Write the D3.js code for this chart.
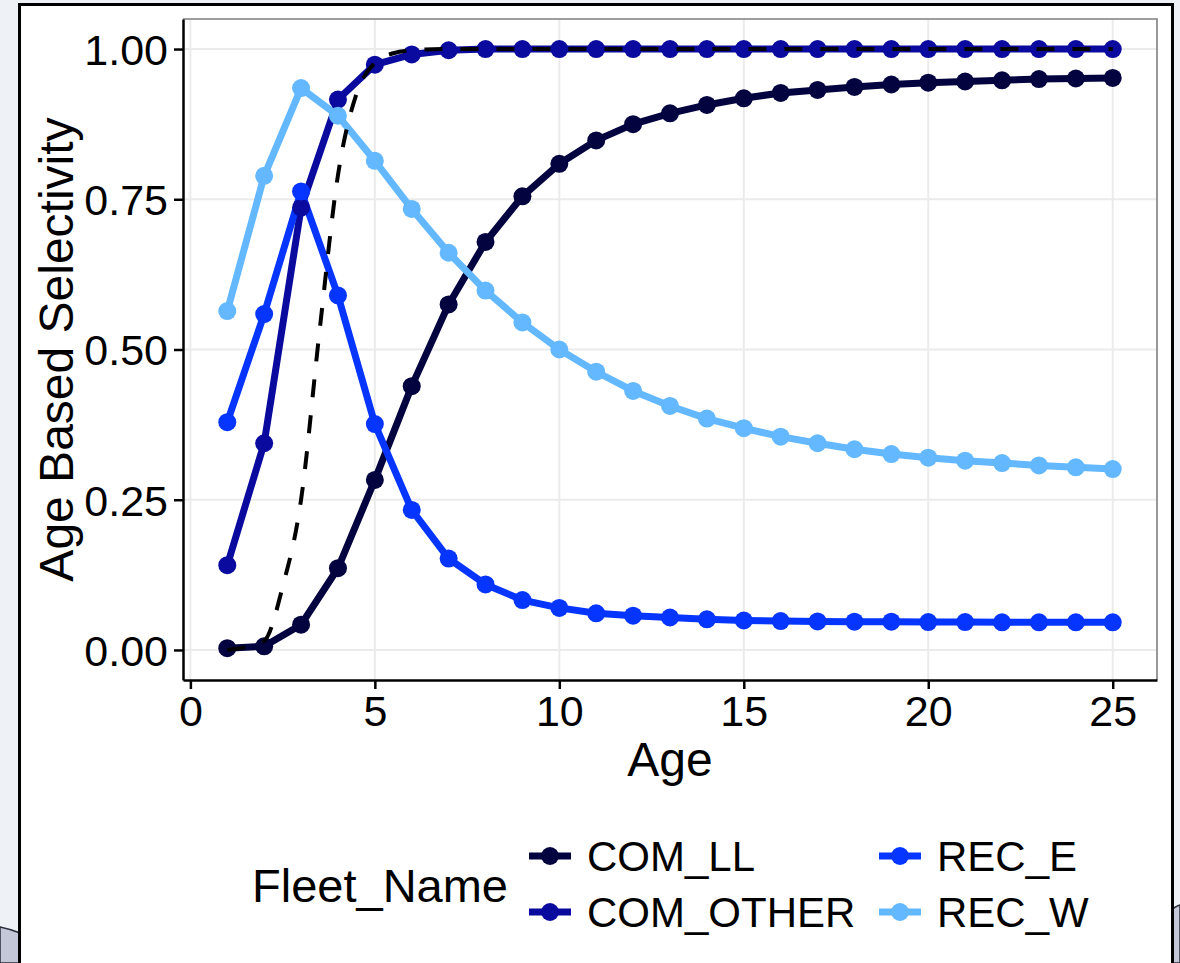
<!DOCTYPE html>
<html>
<head>
<meta charset="utf-8">
<script src="https://cdn.jsdelivr.net/npm/d3@7"></script>
<style>
  html, body { margin: 0; padding: 0; background: #eef2f6; }
  svg { display: block; }
  text { font-family: "Liberation Sans", Arial, Helvetica, sans-serif; fill: #000; }
</style>
</head>
<body>
<svg id="chart" width="1180" height="963"></svg>
<script>
// Age-based selectivity by fleet
const ages = d3.range(1, 26);
const fleets = ["COM_LL", "COM_OTHER", "REC_E", "REC_W"];
const fleetColors = ["#03033f", "#0a0a9e", "#0535ff", "#63b8ff"];

const selCOM_LL = [0.003, 0.006, 0.042, 0.136, 0.283, 0.439, 0.575, 0.679, 0.755, 0.809,
                   0.848, 0.875, 0.893, 0.907, 0.918, 0.927, 0.932, 0.937, 0.941, 0.944,
                   0.946, 0.948, 0.950, 0.951, 0.952];
const selCOM_OTHER = [0.141, 0.344, 0.736, 0.916, 0.974, 0.991, 0.998, 1.000, 1.000, 1.000,
                      1.000, 1.000, 1.000, 1.000, 1.000, 1.000, 1.000, 1.000, 1.000, 1.000,
                      1.000, 1.000, 1.000, 1.000, 1.000];
const selREC_E = [0.379, 0.559, 0.763, 0.590, 0.376, 0.233, 0.152, 0.109, 0.083, 0.070,
                  0.061, 0.057, 0.054, 0.051, 0.049, 0.048, 0.0475, 0.047, 0.047, 0.0465,
                  0.0465, 0.046, 0.046, 0.046, 0.046];
const selREC_W = [0.564, 0.789, 0.935, 0.889, 0.814, 0.734, 0.661, 0.598, 0.545, 0.500,
                  0.463, 0.431, 0.406, 0.385, 0.369, 0.355, 0.344, 0.334, 0.326, 0.320,
                  0.315, 0.311, 0.307, 0.304, 0.301];

// Reference (dashed) curve, sampled at half-year steps while it rises
const refAges = [1, 1.5, 2, 2.5, 3, 3.5, 4, 4.5, 5, 5.5, 6, 7, 8, 9, 10, 11, 12, 13, 14, 15,
                 16, 17, 18, 19, 20, 21, 22, 23, 24, 25];
const refSel = [0.000, 0.005, 0.015, 0.105, 0.250, 0.530, 0.790, 0.925, 0.977, 0.993, 0.998,
                1, 1, 1, 1, 1, 1, 1, 1, 1, 1, 1, 1, 1, 1, 1, 1, 1, 1, 1];

const xTicks = [0, 5, 10, 15, 20, 25];
const yTicks = [0, 0.25, 0.5, 0.75, 1];

const seriesValues = [selCOM_LL, selCOM_OTHER, selREC_E, selREC_W];
const series = fleets.map((name, i) => ({
  name, color: fleetColors[i],
  points: ages.map((a, j) => ({ age: a, sel: seriesValues[i][j] }))
}));
const refPoints = refAges.map((a, j) => ({ age: a, sel: refSel[j] }));

const svg = d3.select("#chart");

// page frame behind the figure
svg.append("path")
  .attr("d", "M0,927 Q10,929 20,933 L20,963 L0,963 Z")
  .attr("fill", "#c3c7d7").attr("stroke", "#2a2d3a").attr("stroke-width", 1.5);
svg.append("path")
  .attr("d", "M1170,911 Q1176,906 1180,905 L1180,963 L1170,963 Z")
  .attr("fill", "#c3c7d7").attr("stroke", "#2a2d3a").attr("stroke-width", 1.5);
svg.append("rect")
  .attr("x", 19.5).attr("y", 4.5).attr("width", 1153).attr("height", 980)
  .attr("fill", "#fff").attr("stroke", "#000").attr("stroke-width", 3);

const P = { left: 183, right: 1157, top: 19, bottom: 680 };
const x = d3.scaleLinear().domain([-0.2, 26.2]).range([P.left, P.right]);
const y = d3.scaleLinear().domain([-0.05, 1.05]).range([P.bottom, P.top]);

// grid
const grid = svg.append("g");
grid.selectAll("line.gx").data(xTicks).join("line")
  .attr("x1", d => x(d)).attr("x2", d => x(d))
  .attr("y1", P.top).attr("y2", P.bottom)
  .attr("stroke", "#ebebeb").attr("stroke-width", 2);
grid.selectAll("line.gy").data(yTicks).join("line")
  .attr("y1", d => y(d)).attr("y2", d => y(d))
  .attr("x1", P.left).attr("x2", P.right)
  .attr("stroke", "#ebebeb").attr("stroke-width", 2);

// panel border (top/right)
svg.append("path")
  .attr("d", `M${P.left},${P.top}H${P.right}V${P.bottom}`)
  .attr("fill", "none").attr("stroke", "#7f7f7f").attr("stroke-width", 1.6);

// axes
const xAxis = svg.append("g").attr("transform", `translate(0,${P.bottom})`)
  .call(d3.axisBottom(x).tickValues(xTicks).tickSize(9).tickSizeOuter(0).tickPadding(6)
    .tickFormat(d3.format("d")));
const yAxis = svg.append("g").attr("transform", `translate(${P.left},0)`)
  .call(d3.axisLeft(y).tickValues(yTicks).tickSize(9).tickSizeOuter(0).tickPadding(6)
    .tickFormat(d3.format(".2f")));
[xAxis, yAxis].forEach(g => {
  g.select(".domain").attr("stroke", "#000").attr("stroke-width", 2.5);
  g.selectAll(".tick line").attr("stroke", "#000").attr("stroke-width", 2.5);
  g.selectAll(".tick text").attr("fill", "#000")
    .style("font-family", '"Liberation Sans", Arial, sans-serif').style("font-size", "43px");
});
yAxis.selectAll(".tick text").attr("dy", "0.36em");
xAxis.selectAll(".tick text").attr("dy", "0.71em");

// series lines then points
const line = d3.line().x(d => x(d.age)).y(d => y(d.sel));
svg.append("g").selectAll("path").data(series).join("path")
  .attr("d", d => line(d.points))
  .attr("fill", "none").attr("stroke", d => d.color)
  .attr("stroke-width", 7).attr("stroke-linejoin", "round").attr("stroke-linecap", "butt");
const pts = svg.append("g");
series.forEach(s => {
  pts.append("g").selectAll("circle").data(s.points).join("circle")
    .attr("cx", d => x(d.age)).attr("cy", d => y(d.sel)).attr("r", 9)
    .attr("fill", s.color);
});

// dashed reference curve on top
svg.append("path")
  .attr("d", d3.line().curve(d3.curveMonotoneX).x(d => x(d.age)).y(d => y(d.sel))(refPoints))
  .attr("fill", "none").attr("stroke", "#000").attr("stroke-width", 4)
  .attr("stroke-dasharray", "18,18");

// axis titles
svg.append("text").attr("x", (P.left + P.right) / 2).attr("y", 776)
  .attr("text-anchor", "middle").style("font-size", "48px").text("Age");
svg.append("text").attr("transform", `translate(73,${(P.top + P.bottom) / 2}) rotate(-90)`)
  .attr("text-anchor", "middle").style("font-size", "48px").text("Age Based Selectivity");

// legend
const leg = svg.append("g");
leg.append("text").attr("x", 252).attr("y", 885).attr("dy", "0.36em")
  .style("font-size", "47px").text("Fleet_Name");
const keyPos = [[550, 856], [550, 912], [900, 856], [900, 912]];
series.forEach((s, i) => {
  const [kx, ky] = keyPos[i];
  leg.append("line").attr("x1", kx - 21).attr("x2", kx + 21).attr("y1", ky).attr("y2", ky)
    .attr("stroke", s.color).attr("stroke-width", 7);
  leg.append("circle").attr("cx", kx).attr("cy", ky).attr("r", 9).attr("fill", s.color);
  leg.append("text").attr("x", kx + 37).attr("y", ky).attr("dy", "0.36em")
    .style("font-size", "42px").text(s.name);
});
</script>
</body>
</html>
